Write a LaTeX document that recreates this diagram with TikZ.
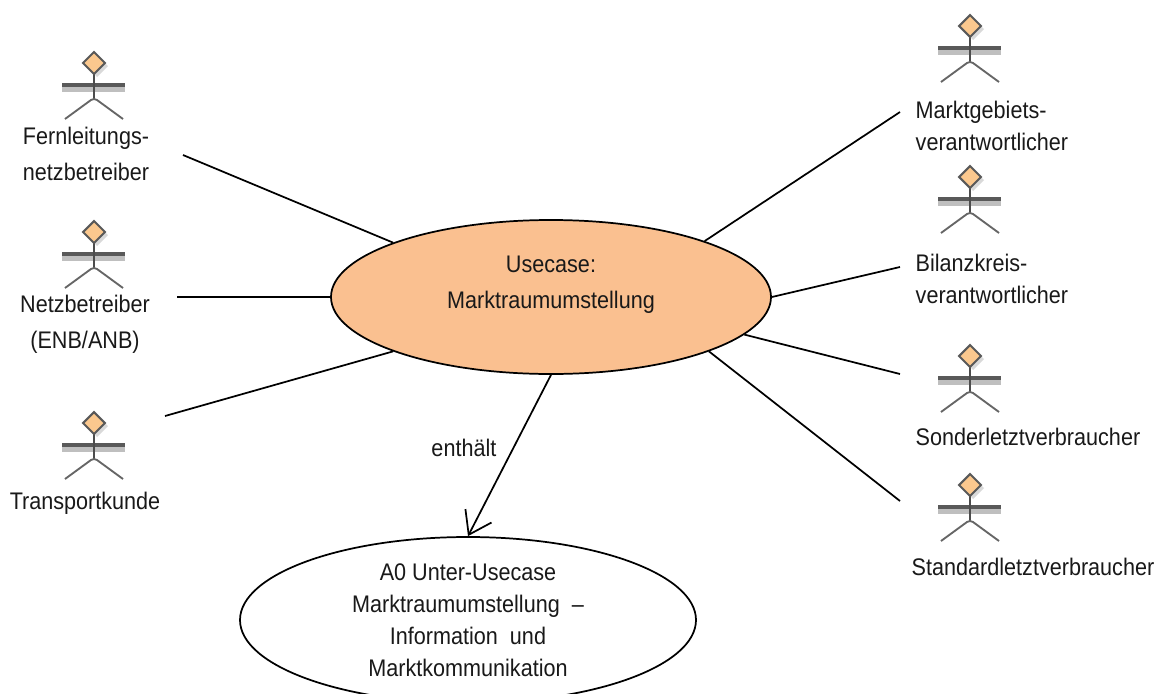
\documentclass[tikz,border=0pt]{standalone}
\usepackage{fontspec}
\setmainfont[FakeStretch=0.9]{Liberation Sans}
\usetikzlibrary{shapes.geometric,arrows.meta}
\definecolor{ucorange}{HTML}{FAC090}
\definecolor{headorange}{HTML}{FBC88E}
\tikzset{
  txt/.style={font=\fontsize{18}{27}\selectfont,align=center,text=black!90},
  txtleft/.style={txt,align=left,anchor=west,font=\fontsize{18}{24}\selectfont},
  usecase/.style={draw,ellipse,line width=1.3pt,inner sep=0pt},
  conn/.style={line width=1.3pt},
  head/.style={draw=black!65,diamond,fill=headorange,line width=1.5pt,inner sep=0pt,minimum width=17pt,minimum height=17pt}
}
% one actor figure, the head node is the named part
\newcommand{\actor}[3]{
  \begin{scope}[shift={(#2,#3)}]
    \fill[black!15] (3,-7) -- (14,3) -- (3,14) -- (-7,3) -- cycle;
    \fill[black!25] (-32,24) rectangle (31,29);
    \fill[black!65] (-32,19.5) rectangle (31,24);
    \draw[black!70,line width=1.7pt] (0,0) -- (0,36);
    \draw[black!60,line width=1.4pt] (-29,56) -- (-3,37) -- (0,36) -- (3,37) -- (29,56);
    \node[head] (#1) at (0,0) {};
  \end{scope}
}

\begin{document}
\begin{tikzpicture}[x=0.75pt,y=-0.75pt]
  \clip (0,0) rectangle (1157,693);

  \actor{fnb}{94}{63}
  \actor{nb}{94}{232}
  \actor{tk}{94}{423}
  \actor{mgv}{970}{26}
  \actor{bkv}{970}{177}
  \actor{slv}{970}{356}
  \actor{stv}{970}{485}

  \node[txt] (fnbtext) at (86,154) {Fernleitungs-\\netzbetreiber};
  \node[txt] (nbtext) at (85,324) {Netzbetreiber\\(ENB/ANB)};
  \node[txt] (tktext) at (85,503) {Transportkunde};
  \node[txtleft] (mgvtext) at (911,126) {Marktgebiets-\\verantwortlicher};
  \node[txtleft] (bkvtext) at (911,279) {Bilanzkreis-\\verantwortlicher};
  \node[txtleft] (slvtext) at (911,437) {Sonderletztverbraucher};
  \node[txt] (stvtext) at (1033,567) {Standardletztverbraucher};

  \node[usecase,fill=ucorange,minimum width=330pt,minimum height=115.5pt] (uc) at (551,297) {};
  \node[txt] (uctext) at (551,285) {Usecase:\\Marktraumumstellung};

  \node[usecase,fill=white,minimum width=342pt,minimum height=124.5pt,
    txt,font=\fontsize{18}{24}\selectfont] (sub) at (468,620) {A0 Unter-Usecase\\Marktraumumstellung~~--\\Information~~und\\Marktkommunikation};

  \coordinate (fnbend) at (183,155);
  \coordinate (nbend) at (177,297);
  \coordinate (tkend) at (165,416);
  \coordinate (mgvend) at (900,112);
  \coordinate (bkvend) at (900,267);
  \coordinate (slvend) at (900,374);
  \coordinate (stvend) at (900,501);

  \draw[conn] (fnbend) -- (uc.161);
  \draw[conn] (nbend) -- (uc.180);
  \draw[conn] (tkend) -- (uc.199);
  \draw[conn] (mgvend) -- (uc.20);
  \draw[conn] (bkvend) -- (uc.0);
  \draw[conn] (slvend) -- (uc.349);
  \draw[conn] (stvend) -- (uc.341);

  \draw[conn,-{Straight Barb[length=16pt,width=22pt,line width=1.3pt]}] (uc.270) -- (sub.90) node[pos=0.45,left=9pt,txt] (contains) {enthält};

\end{tikzpicture}
\end{document}
